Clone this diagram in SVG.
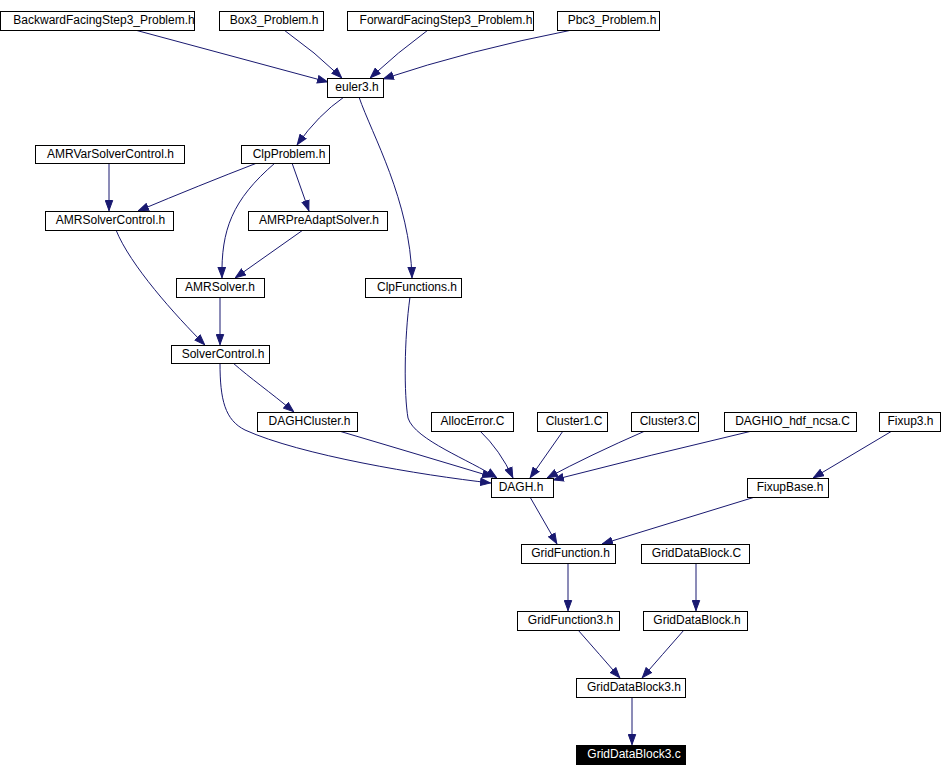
<svg xmlns="http://www.w3.org/2000/svg" width="942" height="776" viewBox="0 0 942 776">
<style>
.n rect{fill:#fff;stroke:#000;stroke-width:1}
.n text{font-family:"Liberation Sans",Arial,sans-serif;font-size:12px;fill:#000;text-anchor:middle}
.n.hl rect{fill:#000}
.n.hl text{fill:#fff}
#edges path{fill:none;stroke:#191970;stroke-width:1;marker-end:url(#ah)}
</style>
<defs>
<marker id="ah" markerUnits="userSpaceOnUse" markerWidth="11" markerHeight="9" refX="11" refY="4.5" orient="auto" viewBox="0 0 11 9">
<path d="M0.5,0.8 L10.5,4.5 L0.5,8.2 z" fill="#191970" stroke="#191970" stroke-width="1"/>
</marker>
</defs>
<rect width="942" height="776" fill="#fff"/>
<g id="edges">
<path d="M135,30 L328,82"/>
<path d="M284,30 Q315,52 342,78"/>
<path d="M428,30 Q398,52 370,78"/>
<path d="M572,30 Q470,50 383,79"/>
<path d="M344,97 Q318,115 297,145"/>
<path d="M359,97 C372,135 410,200 412,278"/>
<path d="M109,163 L109,211"/>
<path d="M257,163 Q200,185 138,211"/>
<path d="M275,163 C232,200 221,230 222,278"/>
<path d="M292,163 L309,211"/>
<path d="M303,230 L235,278"/>
<path d="M116,230 C130,265 175,315 205,345"/>
<path d="M220,297 L220,345"/>
<path d="M233,363 C250,378 270,392 294,412"/>
<path d="M220,363 C220,400 225,420 245,430 C300,455 420,475 491,483"/>
<path d="M339,431 Q420,455 493,477"/>
<path d="M410,297 C404,340 404,395 408,418 C415,440 470,460 497,478"/>
<path d="M480,431 Q500,450 513,478"/>
<path d="M563,431 L530,478"/>
<path d="M645,431 Q590,455 547,478"/>
<path d="M752,431 Q650,455 553,480"/>
<path d="M892,431 L813,478"/>
<path d="M530,497 L557,544"/>
<path d="M755,497 L602,544"/>
<path d="M568,563 L568,611"/>
<path d="M696,563 L696,611"/>
<path d="M578,630 Q600,655 620,678"/>
<path d="M684,630 Q662,655 642,678"/>
<path d="M632,697 L632,745"/>
</g>
<g id="n_bfs" class="n"><rect x="0.5" y="11.5" width="194" height="19"/><text x="104" y="24">BackwardFacingStep3_Problem.h</text></g>
<g id="n_box3" class="n"><rect x="219.5" y="11.5" width="104" height="19"/><text x="274" y="24">Box3_Problem.h</text></g>
<g id="n_ffs" class="n"><rect x="347.5" y="11.5" width="186" height="19"/><text x="446" y="24">ForwardFacingStep3_Problem.h</text></g>
<g id="n_pbc3" class="n"><rect x="557.5" y="11.5" width="102" height="19"/><text x="612" y="24">Pbc3_Problem.h</text></g>
<g id="n_euler3" class="n"><rect x="327.5" y="78.5" width="56" height="19"/><text x="357" y="91">euler3.h</text></g>
<g id="n_amrvar" class="n"><rect x="35.5" y="145.5" width="149" height="18"/><text x="110.5" y="158">AMRVarSolverControl.h</text></g>
<g id="n_clpprob" class="n"><rect x="241.5" y="145.5" width="88" height="18"/><text x="289" y="158">ClpProblem.h</text></g>
<g id="n_amrsc" class="n"><rect x="45.5" y="211.5" width="128" height="19"/><text x="110.5" y="224">AMRSolverControl.h</text></g>
<g id="n_amrpre" class="n"><rect x="248.5" y="211.5" width="139" height="19"/><text x="319" y="224">AMRPreAdaptSolver.h</text></g>
<g id="n_amrsolver" class="n"><rect x="176.5" y="278.5" width="88" height="19"/><text x="220" y="291">AMRSolver.h</text></g>
<g id="n_clpfunc" class="n"><rect x="365.5" y="278.5" width="96" height="19"/><text x="417" y="291">ClpFunctions.h</text></g>
<g id="n_solverc" class="n"><rect x="171.5" y="345.5" width="98" height="18"/><text x="223" y="358">SolverControl.h</text></g>
<g id="n_daghcl" class="n"><rect x="257.5" y="412.5" width="100" height="19"/><text x="309.5" y="425">DAGHCluster.h</text></g>
<g id="n_alloc" class="n"><rect x="431.5" y="412.5" width="82" height="19"/><text x="472.5" y="425">AllocError.C</text></g>
<g id="n_cl1" class="n"><rect x="537.5" y="412.5" width="70" height="19"/><text x="574" y="425">Cluster1.C</text></g>
<g id="n_cl3" class="n"><rect x="631.5" y="412.5" width="67" height="19"/><text x="668" y="425">Cluster3.C</text></g>
<g id="n_daghio" class="n"><rect x="724.5" y="412.5" width="132" height="19"/><text x="792.5" y="425">DAGHIO_hdf_ncsa.C</text></g>
<g id="n_fixup3" class="n"><rect x="879.5" y="412.5" width="61" height="19"/><text x="910.5" y="425">Fixup3.h</text></g>
<g id="n_dagh" class="n"><rect x="491.5" y="478.5" width="62" height="19"/><text x="521" y="491">DAGH.h</text></g>
<g id="n_fixupbase" class="n"><rect x="747.5" y="478.5" width="81" height="19"/><text x="790" y="491">FixupBase.h</text></g>
<g id="n_gf" class="n"><rect x="521.5" y="544.5" width="94" height="19"/><text x="570.5" y="557">GridFunction.h</text></g>
<g id="n_gdbC" class="n"><rect x="641.5" y="544.5" width="108" height="19"/><text x="696.5" y="557">GridDataBlock.C</text></g>
<g id="n_gf3" class="n"><rect x="517.5" y="611.5" width="102" height="19"/><text x="570.5" y="624">GridFunction3.h</text></g>
<g id="n_gdbh" class="n"><rect x="643.5" y="611.5" width="104" height="19"/><text x="697" y="624">GridDataBlock.h</text></g>
<g id="n_gdb3h" class="n"><rect x="576.5" y="678.5" width="109" height="19"/><text x="634" y="691">GridDataBlock3.h</text></g>
<g id="n_gdb3c" class="n hl"><rect x="576.5" y="745.5" width="109" height="19"/><text x="634" y="758">GridDataBlock3.c</text></g>
</svg>
